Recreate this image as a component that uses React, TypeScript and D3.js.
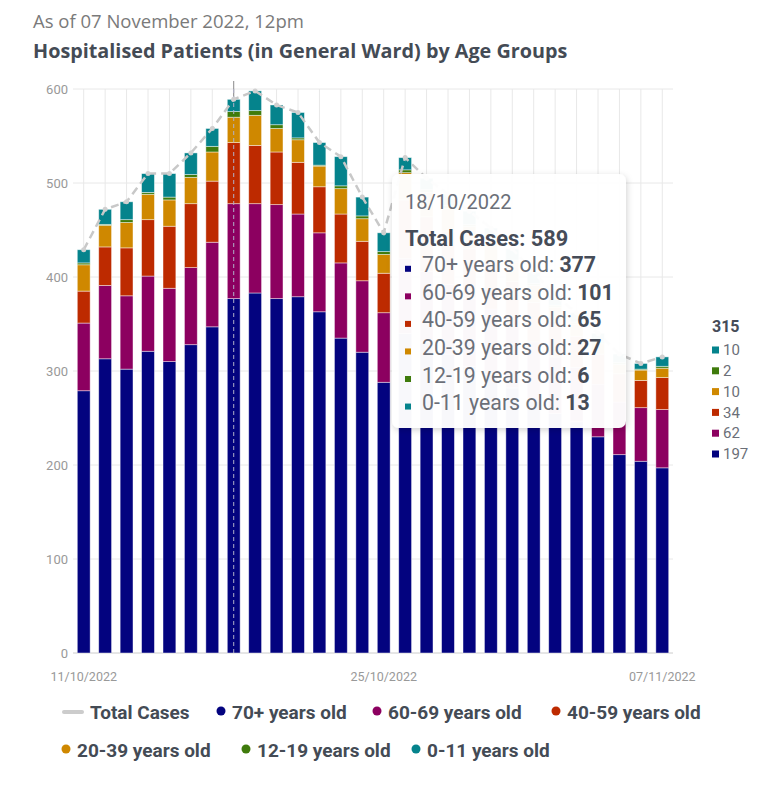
import React from "react";
import * as d3 from "d3";

const dates = [
  "11/10/2022","12/10/2022","13/10/2022","14/10/2022","15/10/2022","16/10/2022","17/10/2022",
  "18/10/2022","19/10/2022","20/10/2022","21/10/2022","22/10/2022","23/10/2022","24/10/2022",
  "25/10/2022","26/10/2022","27/10/2022","28/10/2022","29/10/2022","30/10/2022","31/10/2022",
  "01/11/2022","02/11/2022","03/11/2022","04/11/2022","05/11/2022","06/11/2022","07/11/2022",
];
const age70 = [279,313,302,321,310,328,347,377,383,377,379,363,335,320,288,340,330,318,305,296,282,268,255,246,230,211,204,197];
const age60 = [72,78,78,80,78,82,90,101,95,100,88,84,80,76,74,80,76,74,72,70,66,63,60,58,56,56,57,62];
const age40 = [34,41,51,60,66,68,65,65,62,56,55,49,52,42,42,62,58,56,53,49,47,42,38,33,32,30,29,34];
const age20 = [28,23,27,27,28,28,31,27,32,25,24,22,27,24,20,29,26,25,24,22,21,18,15,13,11,10,11,10];
const age12 = [2,1,3,2,3,3,6,6,5,4,2,1,3,3,3,3,3,3,2,2,2,2,2,2,2,2,1,2];
const age0 = [14,16,19,20,25,23,19,13,21,21,27,24,31,20,20,13,12,12,14,13,12,12,10,10,9,9,6,10];

const seriesNames = ["70+ years old","60-69 years old","40-59 years old","20-39 years old","12-19 years old","0-11 years old"];
const seriesColors = ["#03037f","#8c0060","#bd2a00","#cf8800","#3f7b0c","#05838c"];
const seriesValues = [age70, age60, age40, age20, age12, age0];
const yTicks = [0,100,200,300,400,500,600];
const xLabelIdx = [0,14,27];
const hoverIdx = 7;
const lastIdx = 27;

const W = 767, H = 786;
const plotL = 73, plotR = 673, plotT = 89, plotB = 653;
const FONT = "Roboto, 'Open Sans', sans-serif";
const TITLE_FONT = "'Open Sans', Roboto, sans-serif";

export default function App() {
  const x = d3.scaleBand<string>().domain(dates).range([plotL, plotR]).paddingInner(0.4).paddingOuter(0.2);
  const y = d3.scaleLinear().domain([0, 600]).range([plotB, plotT]);
  const rows = dates.map((d, i) => {
    const o: any = { date: d };
    seriesNames.forEach((n, k) => (o[n] = seriesValues[k][i]));
    return o;
  });
  const stack = d3.stack<any>().keys(seriesNames)(rows);
  const totals = dates.map((_, i) => seriesValues.reduce((s, a) => s + a[i], 0));
  const cx = (d: string) => (x(d) as number) + x.bandwidth() / 2;
  const line = d3.line<number>().x((_, i) => cx(dates[i])).y((v) => y(v));
  const hx = cx(dates[hoverIdx]);

  const legendBottom = [
    { label: "Total Cases", x: 90, y: 712, line: true, color: "#cccccc" },
    { label: seriesNames[0], x: 232, y: 712, color: seriesColors[0] },
    { label: seriesNames[1], x: 388, y: 712, color: seriesColors[1] },
    { label: seriesNames[2], x: 567, y: 712, color: seriesColors[2] },
    { label: seriesNames[3], x: 77, y: 750, color: seriesColors[3] },
    { label: seriesNames[4], x: 257, y: 750, color: seriesColors[4] },
    { label: seriesNames[5], x: 427, y: 750, color: seriesColors[5] },
  ];

  const ttX = 392, ttY = 174, ttW = 234, ttH = 254;

  return (
    <svg width={W} height={H} style={{ position: "fixed", left: 0, top: 0, background: "#fff" }} fontFamily={FONT}>
      <defs>
        <filter id="sh" x="-10%" y="-10%" width="125%" height="125%">
          <feDropShadow dx="1" dy="2" stdDeviation="3" floodColor="#000" floodOpacity="0.18" />
        </filter>
      </defs>
      <text x={33} y={28} fontSize={18.5} fill="#7a7a7a" fontFamily={TITLE_FONT}>As of 07 November 2022, 12pm</text>
      <text x={33} y={58} fontSize={19.8} fontWeight={700} fill="#444b55" fontFamily={TITLE_FONT}>Hospitalised Patients (in General Ward) by Age Groups</text>

      {/* grid */}
      {yTicks.map((t) => (
        <line key={"h" + t} x1={plotL} x2={plotR} y1={y(t)} y2={y(t)} stroke={t === 0 ? "#cccccc" : "#e8e8e8"} strokeWidth={1} />
      ))}
      {dates.map((d) => (
        <line key={"v" + d} x1={cx(d)} x2={cx(d)} y1={plotT} y2={plotB} stroke="#e8e8e8" strokeWidth={1} />
      ))}
      {yTicks.map((t) => (
        <text key={"yl" + t} x={68} y={y(t)} dy="0.35em" textAnchor="end" fontSize={13} fill="#999">{t}</text>
      ))}
      {xLabelIdx.map((i) => (
        <text key={"xl" + i} x={cx(dates[i])} y={681} textAnchor="middle" fontSize={12.5} fill="#999">{dates[i]}</text>
      ))}

      {/* crosshair behind */}
      <line x1={hx} x2={hx} y1={plotT - 8} y2={plotB} stroke="#8a8a8a" strokeWidth={1} />

      {/* bars */}
      {stack.map((s, k) => (
        <g key={s.key} fill={seriesColors[k]}>
          {s.map((p, i) => (
            <rect key={i} x={x(dates[i])} y={y(p[1])} width={x.bandwidth()} height={Math.max(0, y(p[0]) - y(p[1]))}
              stroke="rgba(255,255,255,0.55)" strokeWidth={0.8} />
          ))}
        </g>
      ))}

      {/* crosshair over bars */}
      <line x1={hx} x2={hx} y1={plotT} y2={plotB} stroke="#b0b0c8" strokeWidth={1} strokeDasharray="4,3" />

      {/* total line */}
      <path d={line(totals) || ""} fill="none" stroke="#c8c8c8" strokeWidth={2.5} strokeDasharray="8,5" />
      {totals.map((v, i) => (
        <circle key={"m" + i} cx={cx(dates[i])} cy={y(v)} r={2.5} fill="#d0d0d0" />
      ))}

      {/* tooltip */}
      <g filter="url(#sh)">
        <rect x={ttX} y={ttY} width={ttW} height={ttH} rx={7} fill="#ffffff" fillOpacity={0.97} />
      </g>
      <text x={405} y={209} fontSize={20} fill="#6b6f78">{dates[hoverIdx]}</text>
      <text x={405} y={246} fontSize={21.8} fontWeight={700} fill="#464c58">Total Cases: {totals[hoverIdx]}</text>
      {seriesNames.map((n, k) => (
        <g key={"tt" + k}>
          <rect x={405} y={272.3 + k * 27.55 - 6.5} width={6} height={6} fill={seriesColors[k]} />
          <text x={422} y={272.3 + k * 27.55} fontSize={21.3} fill="#6b6f78">
            {n}: <tspan fontWeight={700} fill="#464c58">{seriesValues[k][hoverIdx]}</tspan>
          </text>
        </g>
      ))}

      {/* right legend (last point) */}
      <text x={712} y={332} fontSize={16} fontWeight={700} fill="#464c58">{totals[lastIdx]}</text>
      {seriesNames.slice().reverse().map((n, j) => {
        const k = seriesNames.length - 1 - j;
        const yy = 350 + j * 20.8;
        return (
          <g key={"rl" + k}>
            <rect x={712} y={yy - 3.5} width={7} height={7} fill={seriesColors[k]} />
            <text x={723} y={yy} dy="0.35em" fontSize={15} fill="#6b6f78">{seriesValues[k][lastIdx]}</text>
          </g>
        );
      })}

      {/* bottom legend */}
      {legendBottom.map((l, i) => (
        <g key={"lb" + i}>
          {l.line ? (
            <line x1={l.x - 26} x2={l.x - 8} y1={l.y} y2={l.y} stroke={l.color} strokeWidth={4} strokeLinecap="round" />
          ) : (
            <circle cx={l.x - 11} cy={l.y - 1} r={4.5} fill={l.color} />
          )}
          <text x={l.x} y={l.y} dy="0.35em" fontSize={19} fontWeight={700} fill="#444b55">{l.label}</text>
        </g>
      ))}
    </svg>
  );
}
